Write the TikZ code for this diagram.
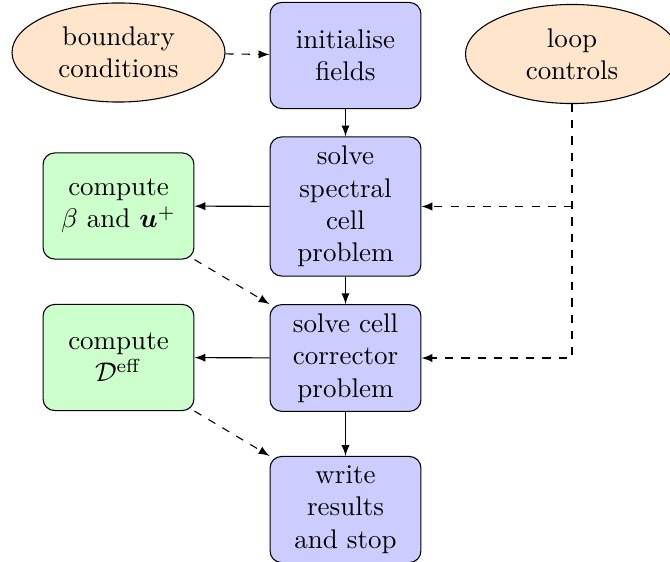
\documentclass[tikz,border=0pt]{standalone}
\usepackage{amsmath,bm}
\usetikzlibrary{shapes.geometric,arrows}
\begin{document}
\begin{tikzpicture}[x=0.3704pt,y=-0.3704pt,
  box/.style={draw,rounded corners=4.3pt,align=center,minimum width=55.9pt,minimum height=39.3pt,inner sep=3.33pt},
  proc/.style={box,fill=blue!20},
  res/.style={box,fill=green!20},
  inp/.style={draw,ellipse,fill=orange!20,align=center,minimum width=78.9pt,minimum height=36.7pt,inner sep=1pt},
  flow/.style={-latex},
  ctrl/.style={-latex,dashed}]
\useasboundingbox (0,0) rectangle (670,562);
\node[inp] (bc) at (118.5,52.5) {boundary\\conditions};
\node[proc] (init) at (345.5,55.5) {initialise\\fields};
\node[inp] (loop) at (572,54) {loop\\controls};
\node[proc] (spec) at (345.5,206.5) {solve\\spectral\\cell\\problem};
\node[res] (beta) at (118.5,206) {compute\\$\beta$ and $\bm{u}^{+}$};
\node[proc] (corr) at (345.5,358) {solve cell\\corrector\\problem};
\node[res] (deff) at (118.5,357.5) {compute\\$\mathcal{D}^{\mathrm{eff}}$};
\node[proc] (write) at (345.5,509.5) {write\\results\\and stop};
\coordinate (lc) at (loop.south |- corr.east);
\coordinate (ls) at (loop.south |- spec.east);
\draw[ctrl] (bc) -- (init);
\draw[flow] (init) -- (spec);
\draw[flow] (spec) -- (beta);
\draw[flow] (spec) -- (corr);
\draw[flow] (corr) -- (deff);
\draw[flow] (corr) -- (write);
\draw[ctrl] (beta.south east) -- (corr.north west);
\draw[ctrl] (deff.south east) -- (write.north west);
\draw[ctrl] (loop.south) -- (lc) -- (corr.east);
\draw[ctrl] (ls) -- (spec.east);
\end{tikzpicture}
\end{document}
